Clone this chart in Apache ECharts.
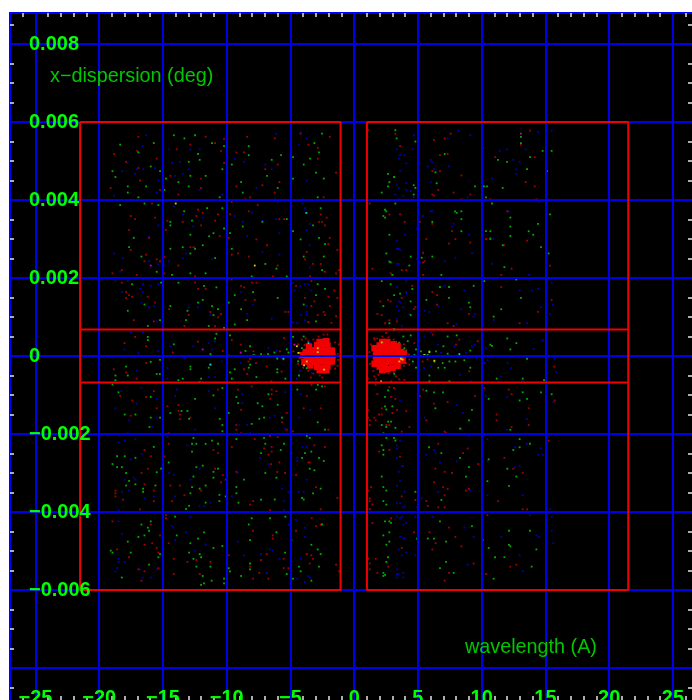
<!DOCTYPE html>
<html><head><meta charset="utf-8">
<style>html,body{margin:0;padding:0;background:#fff}#c{width:692px;height:700px}</style>
<script src="https://cdn.jsdelivr.net/npm/echarts@6/dist/echarts.min.js"></script>
</head><body><div id="c"></div>
<script>
// All points: [wavelength (A), x-dispersion (millidegrees)]
const xMajor=[-25,-20,-15,-10,-5,0,5,10,15,20,25];
const xMinor=[-26,-24,-23,-22,-21,-19,-18,-17,-16,-14,-13,-12,-11,-9,-8,-7,-6,-4,-3,-2,-1,1,2,3,4,6,7,8,9,11,12,13,14,16,17,18,19,21,22,23,24,26];
const yMajor=[8,6,4,2,0,-2,-4,-6,-8];
const yLabelled=[8,6,4,2,0,-2,-4,-6];
const yMinor=[8.5,7.5,7,6.5,5.5,5,4.5,3.5,3,2.5,1.5,1,.5,-.5,-1,-1.5,-2.5,-3,-3.5,-4.5,-5,-5.5,-6.5,-7,-7.5,-8.5];
const boxLines=[
 [[-21.5,6],[-1.07,6],[-1.07,-6],[-21.5,-6],[-21.5,6]],
 [[1,6],[21.5,6],[21.5,-6],[1,-6],[1,6]],
 [[-21.5,.68],[-1.07,.68]],[[-21.5,-.68],[-1.07,-.68]],
 [[1,.68],[21.5,.68]],[[1,-.68],[21.5,-.68]]];

const greenUL=[[-18.36,5.42],[-16.93,5.22],[-15.72,5.46],[-14.15,5.66],[-13.32,5.58],[-12.48,5.66],[-11.15,5.46],[-10.21,5.38],[-12.25,5.18],[-8.27,5.38],[-8.27,5.15],[-5.74,5.15],[-4.8,5.1],[-3.46,5.06],[-3.12,5.46],[-2.52,5.7],[-2.76,5.22],[-3.96,4.91],[-2.99,4.7],[-2.39,4.55],[-4.8,4.55],[-6.47,5.03],[-6.84,4.62],[-6,4.31],[-8.74,4.19],[-8.87,4.46],[-9.6,4.91],[-10.34,4.79],[-11.65,4.62],[-12.12,5.03],[-12.98,4.98],[-12.85,4.62],[-14.76,4.55],[-13.79,4.46],[-12.98,4.35],[-15.23,4.74],[-15.96,4.86],[-18.96,4.74],[-18.73,4.59],[-17.76,4.35],[-17.76,4.19],[-16.93,4.07],[-16.32,4.35],[-14.89,4.26],[-10.55,4.07],[-2.86,4.07],[-18.36,3.87],[-16.45,3.91],[-15.36,3.87],[-13.34,3.71],[-11.54,3.79],[-10.34,3.79],[-14.42,3.44],[-14.42,3.35],[-12.72,3.47],[-10.21,3.27],[-11.38,3.07],[-11.04,3.15],[-9.74,3.15],[-8.74,3.32],[-7.2,3.44],[-5.29,3.51],[-4.8,3.2],[-4.2,2.99],[-3.23,3.35],[-2.63,3.79],[-2.76,3.03],[-2.29,2.87],[-2.39,2.55],[-3.96,2.55],[-2.52,2.2],[-5.29,2.04],[-6.97,2.36],[-6.1,2.24],[-8.04,2.04],[-10.91,2.51],[-11.65,2.12],[-12.85,2.12],[-14.29,2.08],[-15.49,2.16],[-16.69,2.55],[-17.66,2.79],[-17.29,3.03],[-14.42,2.75],[-13.45,2.79],[-12.48,2.75],[-11.88,2.84],[-12.85,2.63],[-12.85,3.11],[-9.6,2.75],[-17.42,1.84],[-15.15,1.88],[-13.79,1.88],[-11.78,1.8],[-10.81,1.76],[-9.37,1.56],[-7.93,1.64],[-6,1.49],[-9.84,1.37],[-8.87,1.2],[-8.4,.92],[-9.37,.81],[-10.21,.72],[-10.68,1.2],[-11.15,1.28],[-11.04,1.05],[-11.41,.77],[-11.88,1.44],[-12.25,1.37],[-13.08,1.16],[-13.19,.92],[-14.42,1.28],[-16.45,1.32],[-17.76,1.16],[-15.23,.92],[-16.19,.77],[-2.99,1.56],[-2.86,1.84],[-2.29,1.72],[-3.96,1.32],[-2.99,.89]];
const redUL=[[-16.93,5.62],[-18.83,5.18],[-17.03,5.26],[-17.89,4.98],[-16.93,4.82],[-16.8,4.5],[-19.1,4.31],[-15.49,5.06],[-13.92,5.3],[-12.85,5.42],[-11.65,5.62],[-10.91,5.46],[-10.21,5.57],[-10.44,5.26],[-9.24,5.22],[-8.64,5.22],[-8.4,5.62],[-6.23,5.58],[-4.2,5.7],[-3.59,5.42],[-1.92,5.62],[-2.86,5.34],[-2.86,5.06],[-1.42,4.7],[-6,4.91],[-6.97,4.79],[-5.87,4.46],[-7.2,4.38],[-9.24,4.35],[-6.23,4.19],[-8.17,4.07],[-8.53,4.02],[-12.01,4.55],[-12.01,4.31],[-13.79,4.14],[-14.42,4.62],[-15.23,4.26],[-10.21,4.95],[-2.39,4.07],[-15.85,3.91],[-17.53,3.59],[-17.19,3.51],[-15.62,3.55],[-14.65,3.47],[-13.45,3.44],[-12.25,3.75],[-11.88,3.67],[-12.38,3.59],[-10.68,3.63],[-10.91,3.47],[-12.01,3.35],[-14.78,3.23],[-17.66,3.23],[-16.09,3.03],[-10.55,3.08],[-9.84,3.03],[-9.6,3.95],[-9.74,3.63],[-8.27,3.71],[-7.57,3.87],[-7.67,2.99],[-6.84,2.84],[-5.87,3.51],[-5.5,3.51],[-4.93,3.83],[-2.63,3.63],[-2.16,3.55],[-2.76,3.44],[-2.52,3.44],[-2.29,3.35],[-1.92,3.03],[-2.03,2.87],[-1.32,2.72],[-3.72,2.67],[-3.86,2.48],[-3.23,2.36],[-2.63,2.36],[-2.29,2.16],[-1.42,2.12],[-1.19,2.2],[-6,2.32],[-8.27,2.55],[-9.6,2.6],[-9.11,2.63],[-14.89,2.54],[-15.23,2.43],[-15.49,2.48],[-16.45,2.43],[-16.32,2.6],[-17.53,2.72],[-13.79,2.32],[-12.85,2.79],[-12.61,2.79],[-18.23,2.2],[-18.96,2.12],[-17.06,2.08],[-14.89,2.12],[-12.48,2.04],[-6.37,2.04],[-3.46,2.04],[-18.23,1.88],[-17.89,1.64],[-17.66,1.56],[-17.42,1.52],[-17.89,1.49],[-16.19,1.52],[-15.62,1.37],[-17.29,.92],[-15.72,.89],[-14.52,1.2],[-12.98,1.05],[-13.32,.77],[-12.48,1.88],[-12.25,1.72],[-11.65,1.72],[-11.28,1.13],[-10.91,.77],[-10.68,.99],[-10.44,1.08],[-9.6,1.96],[-8.87,1.8],[-8.64,1.76],[-8.01,1.88],[-7.67,1.88],[-8.53,1.44],[-7.8,1.44],[-5.4,1.13],[-5.16,1.13],[-4.93,1.64],[-4.56,1.8],[-3.36,1.92],[-3.86,1.49],[-3.12,1.4],[-3.36,1.28],[-2.03,1.52],[-1.56,1.68],[-1.32,1.49],[-1.92,1.28],[-2.39,1.13],[-2.86,1.05],[-2.29,1.05],[-1.42,1.02],[-1.79,.85],[-3.59,.87]];
const blueUL=[[-16.32,5.66],[-16.59,5.38],[-17.79,4.95],[-18.23,4.74],[-17.06,4.79],[-17.19,4.67],[-16.56,4.79],[-15.62,4.82],[-15.36,4.5],[-15.49,4.19],[-18.83,4.11],[-14.52,5.3],[-12.85,5.3],[-12.12,5.3],[-14.29,4.95],[-13.68,4.98],[-14.05,4.62],[-13.45,4.67],[-12.98,4.79],[-12.12,4.26],[-10.34,4.14],[-9.37,5.06],[-8.64,4.98],[-7.67,4.31],[-6.1,5.7],[-4.33,5.42],[-4.2,5.74],[-3.72,5.58],[-4.93,4.95],[-3.72,4.5],[-6.97,4.91],[-6.47,4.79],[-6.23,4.02],[-6,3.95],[-4.06,4.02],[-4.06,3.91],[-14.15,3.83],[-13.45,3.63],[-11.88,3.55],[-12.61,3.32],[-15.36,3.35],[-16.09,3.07],[-9.37,3.59],[-8.04,3.67],[-8.74,3.44],[-8.4,3.08],[-7.2,3.47],[-6.1,3.51],[-5.87,3.15],[-3.86,3.79],[-3.72,3.67],[-3.46,3.39],[-3.72,3.23],[-3.49,2.84],[-3.49,2.27],[-18.83,2.63],[-18.13,2.51],[-16.09,2.43],[-15.36,2.36],[-14.89,2.32],[-14.52,2.43],[-13.19,2.63],[-13.45,2.51],[-11.15,2.48],[-7.2,2.67],[-5.87,2.6],[-18.36,2.16],[-18.73,1.92],[-17.76,1.92],[-16.56,1.84],[-15.96,1.8],[-15.36,1.84],[-16.8,1.72],[-18.23,1.64],[-16.59,1.64],[-17.4,1.52],[-16.69,1.37],[-16.09,1.25],[-15.72,1.28],[-15.49,.89],[-12.98,1.25],[-12.25,1.25],[-11.28,1.05],[-9.97,1.13],[-8.87,1.64],[-7.93,1.32],[-8.4,1.08],[-6.47,.96],[-8.17,.69],[-4.8,1.88],[-4.2,1.8],[-4.69,1.68],[-3.86,1.84],[-3.59,1.84],[-3.36,1.68],[-3.72,1.28],[-3.72,1.13],[-4.2,1.05],[-3.72,1.05],[-4.8,.87],[-4.46,.85],[-3.59,.87],[-3.86,.92]];

const greenLL=[[-18.96,-.73],[-18.49,-.93],[-15.96,-1.05],[-12.48,-1.1],[-11.04,-1.01],[-10.34,-.82],[-9.24,-1.05],[-9.11,-1.21],[-7.57,-1.21],[-7.2,-1.29],[-6.73,-.98],[-6,-1.25],[-4.93,-.86],[-4.46,-.86],[-2.99,-.86],[-2.86,-.74],[-2.52,-.78],[-18,-1.5],[-17.16,-1.5],[-15.96,-1.58],[-15.23,-1.58],[-14.42,-1.46],[-13.55,-1.41],[-13.08,-1.41],[-12.95,-1.61],[-10.55,-1.61],[-9.84,-1.46],[-10.34,-1.77],[-10.34,-1.93],[-8.04,-1.74],[-7.44,-1.61],[-7.07,-1.58],[-5.66,-1.58],[-2.86,-1.7],[-2.29,-1.89],[-16.06,-1.82],[-12.61,-2.1],[-12.72,-2.25],[-12.38,-2.25],[-11.65,-2.25],[-11.15,-2.17],[-10.68,-2.25],[-12.72,-2.45],[-9.24,-2.13],[-7.07,-2.1],[-6.97,-2.25],[-7.31,-2.49],[-5.76,-2.41],[-5.5,-2.25],[-4.93,-2.49],[-3.72,-2.05],[-3.49,-2.1],[-3.86,-2.49],[-3.36,-2.45],[-2.76,-2.61],[-2.39,-2.69],[-4.09,-2.61],[-3.49,-2.89],[-3.12,-2.93],[-15.72,-2.33],[-18.6,-2.57],[-18,-2.57],[-17.16,-2.61],[-18.96,-2.77],[-18.6,-2.85],[-18.23,-2.85],[-17.89,-3],[-15.49,-2.98],[-15.15,-2.89],[-14.55,-2.73],[-11.88,-2.81],[-12.38,-2.85],[-11.04,-2.97],[-10.68,-2.89],[-11.04,-3.12],[-12.61,-3.09],[-8.64,-3.17],[-6.97,-3],[-6.1,-3.12],[-17.66,-3.2],[-17.89,-3.32],[-17.16,-3.29],[-16.56,-3.4],[-16.56,-3.48],[-15.59,-3.32],[-12.72,-3.36],[-11.65,-3.32],[-12.12,-3.4],[-12.85,-3.52],[-10.57,-3.56],[-10.08,-3.6],[-9.24,-3.36],[-9.24,-3.52],[-9.08,-3.76],[-10.57,-3.72],[-11.65,-3.76],[-6.23,-3.68],[-7.31,-3.68],[-4.09,-3.64],[-3.96,-3.68],[-3.23,-3.52],[-2.63,-3.4],[-12.95,-3.84],[-13.19,-3.92],[-15.96,-4.24],[-16.69,-4.32],[-16.19,-4.4],[-16.09,-4.48],[-16.45,-4.6],[-16.93,-4.64],[-17.76,-4.76],[-19.1,-4.99],[-18.96,-5.04],[-17.53,-5.04],[-15.23,-5.08],[-15.36,-5.16],[-16.09,-5.35],[-18.23,-5.68],[-14.05,-4.12],[-13.92,-4.6],[-12.25,-4.68],[-11.78,-4.52],[-12.85,-4.8],[-12.95,-5.04],[-12.12,-5.08],[-12.01,-5.16],[-12.61,-5.2],[-12.38,-5.4],[-11.28,-5.4],[-11.04,-4.92],[-10.34,-4.87],[-9.84,-5.44],[-9.74,-5.52],[-11.88,-5.64],[-11.18,-5.76],[-11.78,-5.83],[-12.01,-5.87],[-10.21,-5.71],[-10.21,-5.83],[-8.87,-5.64],[-8.27,-4.32],[-8.04,-4.16],[-8.17,-4.72],[-8.17,-5.32],[-8.17,-5.47],[-6.6,-4.16],[-5.4,-4.12],[-6.1,-4.52],[-4.93,-4.72],[-5.42,-5.04],[-4.33,-5.4],[-4.2,-5.52],[-5.29,-5.59],[-4.8,-5.71],[-3.36,-5.76],[-3.36,-4.84],[-2.86,-4.96],[-2.63,-5.08],[-2.76,-5.4],[-2.52,-4.32]];
const redLL=[[-18.36,-1.02],[-17.4,-1.14],[-16.32,-1.05],[-15.49,-1.34],[-17.53,-1.53],[-15.72,-.9],[-14.65,-1.29],[-13.79,-1.26],[-13.79,-1.41],[-13.68,-1.5],[-13.68,-1.62],[-12.85,-1.58],[-10.68,-.86],[-9.11,-.86],[-8.04,-.78],[-6.47,-.86],[-6.1,-.9],[-6.6,-1.1],[-6.47,-.98],[-8.87,-1.38],[-9.24,-1.77],[-9.24,-1.89],[-8.87,-1.98],[-5.66,-1.7],[-5.29,-1.46],[-5.29,-1.89],[-4.8,-1.93],[-3.96,-1.34],[-3.72,-1.02],[-2.63,-1.34],[-2.03,-1.89],[-3.36,-.74],[-2.29,-.78],[-14.55,-1.98],[-14.55,-2.25],[-14.89,-2.57],[-15.96,-2.57],[-16.45,-2.41],[-16.19,-2.89],[-16.69,-3],[-11.04,-2.41],[-10.68,-2.49],[-9.6,-2.33],[-10.91,-2.89],[-10.31,-3.05],[-10.08,-3.17],[-10.44,-3.24],[-9.24,-2.97],[-7.8,-2.13],[-6.6,-2.05],[-6,-2.08],[-6.47,-2.33],[-7.07,-2.37],[-6.73,-2.53],[-6.47,-2.45],[-6.52,-2.77],[-5.87,-2.73],[-6.03,-2.97],[-5.42,-3],[-4.56,-3.05],[-3.12,-2.29],[-2.29,-2.33],[-3.59,-2.73],[-3.49,-2.73],[-2.99,-3.36],[-2.63,-3.93],[-1.32,-3.64],[-18.73,-3.45],[-18.73,-3.52],[-18.73,-3.6],[-18.13,-3.68],[-16.45,-3.29],[-15.72,-3.45],[-15.72,-3.72],[-16.8,-3.93],[-14.42,-3.32],[-13.68,-3.32],[-14.29,-3.72],[-13.32,-3.57],[-12.01,-3.45],[-7.93,-3.72],[-8.17,-3.81],[-6.6,-3.96],[-18.96,-4.24],[-15.96,-4.32],[-15.23,-4.6],[-16.45,-4.84],[-15.85,-4.8],[-15.49,-4.92],[-15.36,-5.04],[-18.6,-4.96],[-17.66,-5.16],[-16.93,-5.47],[-16.45,-5.52],[-15.36,-5.44],[-16.69,-5.76],[-14.76,-4.08],[-14.76,-4.16],[-14.55,-4.8],[-14.15,-5.2],[-14.15,-5.59],[-13.08,-5.28],[-12.38,-5.23],[-11.28,-5.28],[-12.12,-5.59],[-9.84,-5.11],[-7.93,-4.48],[-8.17,-5.4],[-7.93,-5.71],[-7.44,-5.56],[-6.73,-5.71],[-7.31,-5.23],[-6.86,-5.08],[-6.39,-4.6],[-6.39,-4.68],[-5.53,-5.2],[-5.53,-5.44],[-5.16,-5.44],[-4.56,-4.48],[-3.33,-4.16],[-2.99,-4.36],[-2.63,-4.32],[-3.72,-5.08],[-3.36,-5.11],[-3.23,-5.2],[-3.49,-5.32],[-1.42,-5.35],[-1.19,-5.52]];
const blueLL=[[-18.26,-.9],[-16.69,-.81],[-14.05,-1.02],[-13.92,-.86],[-11.41,-.9],[-15.49,-1.1],[-17.06,-1.22],[-18.73,-1.34],[-17.66,-1.65],[-15.49,-1.58],[-15.85,-1.82],[-10.91,-1.34],[-8.77,-.98],[-8.77,-1.21],[-9.01,-1.77],[-8.4,-1.77],[-8.17,-1.98],[-6.6,-1.58],[-6.23,-1.53],[-5.4,-.93],[-4.2,-.98],[-3.46,-1.38],[-4.33,-1.58],[-5.42,-1.86],[-12.48,-1.89],[-17.76,-1.98],[-18.49,-2.22],[-18,-2.17],[-17.16,-2.13],[-14.65,-2.08],[-16.66,-2.52],[-17.53,-2.65],[-13.08,-2.29],[-12.12,-2.89],[-14.52,-3],[-14.15,-3.05],[-17.89,-3],[-18,-3.17],[-17.29,-3.12],[-17.16,-3.17],[-18.23,-3.48],[-17.66,-3.45],[-16.45,-3.64],[-15.72,-3.6],[-14.05,-3.6],[-12.85,-3.17],[-9.6,-3.6],[-11.28,-3.76],[-12.12,-3.84],[-11.78,-3.84],[-18.49,-3.96],[-9.13,-3],[-7.38,-2.61],[-6.73,-2.77],[-7.31,-3.69],[-5.53,-3.72],[-5.53,-3.96],[-4.93,-2.22],[-4.06,-2.33],[-3.72,-2.33],[-4.46,-2.61],[-4.46,-2.69],[-4.98,-3.12],[-3.72,-3.17],[-5.66,-3.4],[-5.16,-3.48],[-4.33,-3.48],[-3.96,-3.48],[-18.49,-4.24],[-18.23,-4.56],[-18.49,-5.2],[-18,-5.28],[-18.49,-5.28],[-18.6,-5.44],[-18.73,-5.52],[-16.8,-5.47],[-15.49,-5.47],[-16.59,-5.68],[-15.96,-5.68],[-14.31,-4.36],[-14.18,-4.4],[-13.19,-4.52],[-14.05,-4.72],[-11.65,-4.84],[-12.48,-4.99],[-12.85,-4.12],[-9.13,-4.76],[-8.64,-5.11],[-7.31,-5.08],[-6.6,-4.96],[-6.39,-4.99],[-5.87,-5.2],[-6.86,-5.56],[-4.56,-4.2],[-5.14,-4.32],[-3.86,-4.4],[-3.86,-4.64],[-3.72,-5.08],[-4.2,-5.2],[-3.59,-5.64],[-3.46,-5.68],[-4.46,-5.71],[-3.86,-5.8]];

const greenUR=[[3.23,5.79],[3.33,5.58],[4.8,5.5],[7.1,5.18],[2.66,4.67],[3.13,4.59],[6.37,4.71],[2.76,4.46],[2.66,4.35],[2.16,4.19],[4.67,4.38],[4.8,4.31],[4.67,4.14],[6.47,4.43],[9.48,4.35],[10.18,4.35],[10.42,4.35],[11.28,5.03],[11.99,4.98],[13.08,5.62],[13.08,5.46],[13.79,5.1],[14.78,5.26],[15.49,5.26],[13.56,4.79],[15.12,4.74],[11.65,4.31],[10.34,4.07],[10.81,3.91],[3.23,3.91],[2.42,3.75],[2.52,3.71],[2.29,3.59],[2.42,3.55],[7.91,3.71],[8.04,3.67],[8.41,3.71],[8.41,3.51],[6.13,3.44],[8.41,3.2],[10.34,3.2],[10.68,3.2],[12.25,3.55],[12.25,3.32],[12.25,3.08],[13.69,3.2],[14.05,3.11],[14.42,3.39],[15.36,3.63],[10.68,3],[14.65,2.79],[15.25,2.63],[11.65,2.84],[2.76,3.11],[2.52,2.63],[4.43,2.55],[2.76,2.42],[2.86,2.4],[5.3,2.52],[6.13,2.55],[4.33,2.32],[6.84,2.08],[2.99,2.08],[11.78,2.28],[12.72,1.96],[10.21,1.92],[2.16,1.92],[2.86,1.84],[4.56,1.72],[3.6,1.6],[3.13,1.56],[4.43,1.4],[2.29,1.28],[4.43,1.05],[2.76,.84],[3.13,.68],[5.66,1.44],[6.73,1.77],[7.44,1.77],[7.44,1.49],[9.37,1.8],[9,1.37],[9.11,1.25],[11.54,1.2],[13.08,1.49],[10.94,1.01]];
const redUR=[[1.09,5.79],[3.23,5.7],[3.6,5.38],[6.26,5.54],[7.1,5.58],[7.57,5.7],[7.33,5.18],[6.73,5.15],[6.73,4.74],[6.13,4.74],[8.41,4.63],[6.6,4.26],[6.13,4.14],[6.26,4.11],[7.8,4.19],[9.11,4.14],[8.41,4.02],[10.68,4.02],[10.08,5.34],[11.07,5.1],[13.08,5.42],[13.79,5.78],[14.16,5.1],[13.45,4.46],[14.16,4.35],[14.29,4.02],[1.22,3.91],[2.76,3.63],[3.6,3.63],[3.96,3.44],[5.16,3.44],[6.13,3.39],[7.67,3.2],[5.66,3],[7.94,3],[7.44,2.88],[9.11,2.91],[10.34,3],[10.68,3.03],[12.01,3.71],[13.56,2.96],[11.75,2.84],[5.4,2.64],[5.4,2.4],[5.53,2.43],[3.73,2.2],[4.09,2.2],[1.43,2.24],[2.86,2.12],[5.4,2.08],[12.35,2.24],[15.36,2.32],[11.54,2.08],[4.56,1.8],[3.73,1.49],[2.05,1.4],[2.66,1.44],[2.86,1.4],[4.8,1.25],[4.69,1.2],[1.82,1.08],[2.16,1.05],[2.76,.92],[2.42,.84],[3.36,.89],[6.13,1.64],[6.5,1.56],[6.5,1.32],[9,1.08],[7.33,.84],[7.8,.77],[11.54,1.77],[15.49,1.44],[14.42,1.13],[12.98,.84]];
const blueUR=[[4.69,5.66],[4.56,5.3],[3.36,5.3],[3.6,5.15],[3.96,5.15],[3.49,5.06],[4.09,4.94],[3.6,4.74],[3.36,4.38],[4.09,4.43],[3.49,4.31],[4.09,4.26],[4.43,4.23],[3.23,4.14],[3.86,4.11],[3.49,4.02],[4.67,4.07],[6,5.03],[6.13,4.98],[5.77,4.86],[6.26,4.79],[7.44,4.86],[6,4.46],[7.33,5.58],[8.17,5.78],[9.11,5.66],[10.81,4.55],[8.9,4.07],[11.41,5.26],[12.01,5.3],[12.48,5.03],[12.98,4.98],[12.72,4.79],[12.72,4.67],[13.45,5.3],[14.42,5.74],[15.49,5.78],[14.52,3.95],[5.4,3.59],[6,3.71],[6.13,3.71],[4.93,3.27],[7.8,3.39],[7.67,3.32],[3.96,3.11],[3.36,2.96],[3.36,2.75],[3.49,2.75],[3.6,2.72],[5.4,2.67],[4.93,2.48],[5.16,2.4],[3.36,2.36],[3.49,2.36],[7.1,2.43],[7.94,2.52],[9.24,2.64],[9,3.11],[10.81,2.36],[10.92,3],[12.12,3.71],[13.69,2.08],[4.09,1.92],[3.36,1.77],[4.09,1.64],[4.09,1.6],[3.49,1.4],[3.6,1.37],[3.36,1.28],[3.86,1.25],[3.49,1.16],[4.33,1.08],[3.36,.96],[3.73,.77],[7.1,1.8],[8.64,1.68],[6.6,1.28],[5.53,1.16],[5.9,1.13],[5.11,1.05],[8.41,1.2],[9.48,1.08],[9.37,1.01],[8.04,.81],[10.08,1.84],[12.98,1.68],[13.92,1.68],[14.42,1.72],[15.49,1.88],[15.59,1.32],[14.65,1.25],[15.36,1.08],[13.56,.84],[10.94,.92]];

const greenLR=[[2.66,-.88],[2.42,-1.05],[2.42,-1.29],[2.99,-1.29],[2.52,-1.37],[2.16,-1.77],[2.66,-1.68],[2.89,-1.68],[2.52,-1.82],[3.23,-1.84],[2.29,-1.98],[5.66,-.89],[6.26,-.93],[6.97,-.93],[6.37,-1.34],[9.24,-1.38],[9,-1.65],[8.3,-1.86],[10.55,-1.1],[13.22,-.93],[12.98,-1.14],[13.56,-1.1],[14.65,-.93],[15.49,-.98],[12.25,-1.89],[2.52,-2.1],[3.13,-2.1],[3.23,-2.17],[2.16,-2.29],[2.29,-2.41],[2.29,-2.53],[5.87,-2.34],[6.84,-2.49],[8.3,-2.61],[9,-2.85],[10.55,-2.65],[8.77,-3.09],[12.98,-2.13],[12.98,-2.34],[13.79,-2.25],[12.48,-2.41],[12.01,-2.89],[12.72,-3.09],[10.45,-3.21],[12.14,-3.33],[2.16,-3.09],[2.29,-3.36],[2.52,-3.45],[4.8,-3.48],[2.29,-3.72],[2.52,-3.81],[6.84,-3.69],[5.66,-4],[2.42,-4.24],[2.76,-4.24],[2.89,-4.28],[2.76,-4.52],[2.29,-4.6],[2.76,-4.76],[2.52,-4.84],[4.93,-4.68],[5.77,-4.68],[6.26,-4.68],[7.2,-4.76],[6.73,-4.24],[9.24,-4.36],[10.08,-4.72],[10.55,-4.92],[12.14,-4.48],[13.79,-4.48],[12.25,-4.88],[12.14,-4.84],[14.29,-4.96],[11.05,-5.16],[11.78,-5.16],[2.66,-5.16],[2.52,-5.28],[2.29,-5.56],[2.29,-5.64],[2.42,-5.61],[7.2,-5.28],[6.73,-5.44],[7.8,-5.56],[13.92,-5.4],[10.94,-5.71]];
const redLR=[[2.76,-.8],[3.13,-.82],[1.69,-.74],[1.82,-.98],[2.89,-1.05],[3.23,-1.1],[2.16,-1.34],[3.36,-1.38],[4.09,-1.41],[1.95,-1.5],[2.16,-1.5],[2.99,-1.46],[1.09,-1.38],[1.09,-1.58],[1.58,-1.58],[1.22,-1.65],[1.69,-1.65],[1.22,-1.77],[2.52,-1.77],[2.76,-1.77],[4.33,-1.82],[3.73,-1.94],[5.4,-.86],[5.16,-1.02],[7.33,-1.18],[6.26,-1.22],[5.66,-1.65],[9.48,-1.02],[10.21,-.82],[12.35,-.98],[12.12,-.86],[13.69,-1.34],[11.17,-1.5],[11.17,-1.65],[12.35,-1.82],[13.69,-1.77],[15.73,-1.14],[7.1,-1.94],[7.2,-1.98],[8.38,-1.86],[15.25,-2.17],[6.6,-2.25],[8.54,-2.49],[8.9,-2.37],[1.95,-2.45],[2.76,-2.41],[3.6,-2.58],[9.74,-2.77],[10.08,-2.7],[11.78,-2.61],[6.37,-2.89],[7.1,-2.97],[7.67,-3],[12.48,-2.89],[13.22,-3],[6.26,-3.24],[6.97,-3.36],[7.33,-3.41],[8.77,-3.45],[9,-3.41],[7.1,-3.57],[1.32,-3.36],[1.09,-3.45],[1.22,-3.65],[1.22,-3.72],[1.43,-3.81],[1.22,-3.93],[3.73,-3.6],[4.8,-3.69],[5.66,-3.72],[5.77,-3.84],[6.6,-3.88],[7.1,-3.88],[11.28,-3.72],[13.22,-3.93],[13.56,-3.93],[10.45,-4.08],[2.89,-4.16],[1.43,-4.28],[4.69,-4.52],[5.9,-4.52],[7.44,-4.4],[7.94,-4.64],[6.39,-4.8],[6.13,-4.96],[8.41,-4.88],[3.73,-4.92],[1.69,-5.2],[1.09,-5.2],[1.22,-5.32],[2.66,-5.4],[1.22,-5.47],[1.82,-5.56],[9.37,-5.32],[7.44,-5.56],[7.1,-5.76],[10.34,-5.59],[12.25,-5.4],[12.72,-5.35]];
const blueLR=[[3.6,-1.14],[5.53,-1.58],[8.54,-1.46],[8.04,-1.26],[10.34,-1.02],[12.01,-1.05],[13.56,-1.62],[12.01,-1.89],[15.62,-1.18],[9,-2.05],[10.45,-2.13],[3.6,-2.17],[3.36,-2.29],[3.36,-2.37],[3.36,-2.61],[3.73,-2.82],[3.83,-2.82],[3.49,-2.97],[3.6,-3.21],[3.36,-3.33],[3.96,-3.48],[6.26,-2.41],[5.66,-2.53],[6.39,-2.49],[6.73,-2.73],[8.04,-2.7],[10.45,-2.7],[13.56,-2.25],[12.61,-2.34],[14.65,-2.37],[15.12,-2.37],[14.42,-2.53],[14.78,-2.53],[12.98,-2.82],[12.61,-2.85],[5.3,-3.65],[6.6,-3.48],[9.11,-3.45],[10.45,-3.57],[13.22,-3.57],[3.36,-3.77],[3.6,-3.77],[3.96,-3.84],[3.83,-3.88],[4.93,-3.88],[15.39,-3.93],[13.56,-4],[3.36,-4.12],[3.73,-4.12],[3.6,-4.16],[4.8,-4.12],[6.13,-4.12],[4.09,-4.28],[3.86,-4.32],[13.79,-4.08],[15.49,-4.12],[8.64,-4.4],[9.37,-4.64],[3.6,-4.64],[3.86,-4.68],[3.96,-4.68],[3.49,-4.96],[4.09,-5.04],[3.73,-5.11],[4.8,-5.11],[11.54,-4.64],[14.29,-4.6],[14.52,-4.64],[15.49,-4.48],[15.62,-4.8],[12.98,-5.11],[8.9,-5.35],[13.22,-5.52],[3.36,-5.47],[3.86,-5.56],[3.36,-5.59],[3.49,-5.59],[3.36,-5.68],[3.86,-5.68],[10.45,-5.59]];

const greenBandL=[[-16.19,.49],[-16.19,.41],[-14.15,.3],[-15.23,-.1],[-15.96,-.15],[-17.89,-.27],[-17.76,-.5],[-18.73,-.5],[-18.73,-.62],[-15.49,-.46],[-15.25,-.46],[-13.79,-.62],[-13.45,-.58],[-12.85,-.27],[-12.85,-.34],[-11.41,-.3],[-12.01,-.58],[-12.12,-.67],[-11.28,-.22],[-11.28,.05],[-10.91,.45],[-10.81,.57],[-9.74,.53],[-9.74,-.42],[-9.37,-.34],[-9.6,-.58],[-8.53,.13],[-8.17,.25],[-7.8,.01],[-7.3,.05],[-7.07,.01],[-6.76,.05],[-6.26,.09],[-6.03,-.07],[-5.16,.09],[-5.29,.17],[-4.8,.49],[-4.1,.2],[-7.67,-.54],[-8.27,-.3],[-8.17,-.22],[-6.03,-.34],[-6.03,-.42],[-5.4,-.58],[-4.33,-.5],[-3.96,.5],[-2.76,-.38],[-2.26,-.42],[-3.72,-.31],[-4.4,-.14],[-4.25,.08],[-9.84,.01]];
const redBandL=[[-18.02,.33],[-16.32,.25],[-16.32,-.18],[-17.19,.49],[-17.06,-.58],[-18.86,-.34],[-17.89,-.42],[-14.23,.09],[-12.25,.37],[-10.31,.13],[-9.6,.41],[-8.9,.29],[-7.91,.12],[-8.3,-.14],[-7.7,-.18],[-8.64,-.34],[-8.4,-.46],[-8.17,-.07],[-6.86,-.27],[-5.82,.12],[-5.55,-.09],[-5.5,.46],[-5.69,-.4],[-4.77,.12],[-6.5,-.65],[-4.4,.3],[-4.1,.42],[-3.9,.28],[-3.8,.45],[-3.6,.38],[-3.2,.42],[-2.8,.5],[-2.4,.55],[-2,.42],[-1.5,.35],[-1.2,.3],[-1.3,-.25],[-1.5,-.32],[-2,-.4],[-2.4,-.42],[-2.7,-.5],[-3.2,-.45],[-3.6,-.38],[-4,-.3],[-4.4,-.2],[-3.6,.18],[-3.7,-.12],[-4,.1],[-4.3,-.05],[-1.3,.05],[-1.25,-.1],[-2.9,.4],[-2.5,-.55],[-2.1,.55],[-3.4,-.55]];
const blueBandL=[[-17.53,.61],[-16.59,.61],[-18.02,.17],[-16.93,.09],[-15.36,.13],[-14.42,.25],[-12.61,.25],[-11.41,.33],[-10.91,.37],[-11.15,.17],[-13.32,-.06],[-14.65,-.31],[-17.06,-.38],[-14.65,-.58],[-11.41,-.54],[-10.91,-.54],[-10.08,-.58],[-8.9,-.18],[-10.39,-.14],[-6.73,.21],[-6.08,.14],[-5.69,-.05],[-4.9,-.14],[-4.69,.29],[-4.25,-.39],[-4.5,-.58],[-3.33,-.44],[-3.46,.33]];
const greenBandR=[[3.13,.69],[3.86,.5],[4.43,.53],[4.2,.38],[7.33,.5],[8.04,.53],[10.68,.29],[10.81,.26],[12.01,.45],[12.72,.33],[12.25,.17],[13.56,-.07],[11.18,-.58],[13.22,-.58],[14.89,-.62],[5.9,-.5],[5.9,-.65],[7.47,-.65],[9.11,-.3],[9.11,.14],[7,.25],[7.33,.06],[8.64,-.11],[7.94,-.14],[7.47,-.14],[6.6,-.3],[7.1,-.3],[6.94,-.18],[5.9,.12],[5.24,.12],[4.85,.17],[4.72,-.01],[4.85,-.3],[5.5,.02],[5.77,.03],[4.07,.12],[3.94,.2],[3.54,.33],[3.54,-.31],[3.15,-.46],[6.42,.12],[6.29,-.14],[3.94,-.07],[4.6,-.14]];
const redBandR=[[1.58,.46],[2.5,.59],[1.98,.33],[4.33,-.09],[4.72,.33],[5.37,-.14],[5.77,-.09],[4.33,-.22],[4.07,-.18],[1.58,-.52],[3.54,-.6],[3.94,-.61],[2.89,-.65],[2.11,-.65],[1.06,-.57],[2.5,-.4],[3.15,-.31],[3.28,-.52],[2.37,-.24],[7.99,.29],[8.25,.42],[8.12,-.01],[7.78,-.01],[9.69,.38],[15.7,-.27],[6.16,.55],[9.03,-.39],[1.3,.3],[1.2,.1],[1.25,-.2],[1.5,-.38],[1.8,.45],[2.2,.5],[2.7,.48],[3.1,.42],[3.5,.35],[3.9,.3],[4.1,.15],[3.9,-.25],[3.5,-.3],[3.1,-.42],[2.7,-.45],[2.3,-.42],[1.9,-.48],[1.6,.42],[3.6,.15],[4.3,.05],[2.6,.38],[2.5,-.35],[1.7,-.6]];
const blueBandR=[[6.03,.61],[5.5,.5],[5.11,.38],[6.55,.29],[5.5,-.31],[5.11,-.35],[6.03,-.27],[7.86,.25],[9.43,.29],[9.24,.25],[10.34,.2],[8.77,.08],[8.9,-.05],[9.56,-.05],[10.21,-.18],[10.47,-.11],[11.26,-.01],[12.38,-.03],[12.04,-.18],[12.3,-.31],[11.52,-.52],[13.22,-.65],[14.08,.18],[14.78,.41],[15.7,-.07],[15.86,-.41],[8.3,-.48],[9.16,-.65],[6.81,.08],[6.16,-.01]];
const yellowDots=[[-2.86,.2],[-2.86,.1],[-3.72,-.14],[-3.93,-.24],[-4.38,.08],[-2.37,-.35],[-4.5,.25],[3.8,-.09],[3.67,-.07],[3.54,-.14],[2.16,.35],[2.11,-.65],[6.29,-.12],[5.9,.1],[5.5,.03],[-14.0,3.91],[-7.8,2.32]];
const cyanDots=[[-11.28,-.22],[-7.9,.02],[-6.08,-.01],[-5.55,-.07],[-3.59,.33],[4.72,.02],[5.58,.02],[8.25,.05],[-3.76,3.67]];
const magentaDots=[[-11.88,.17],[-8.9,.09],[-4.97,-.15],[-4.69,.29],[13.08,5.7],[-15.96,2.32]];
const redCoreL=[[-2.9,.28],[-2.5,.3],[-2.1,.27],[-3.3,.15],[-2.9,.14],[-2.5,.14],[-2.1,.14],[-1.75,.14],[-3.5,0],[-3.1,0],[-2.7,0],[-2.3,0],[-1.9,0],[-1.7,0],[-3.3,-.14],[-2.9,-.14],[-2.5,-.14],[-2.1,-.14],[-1.75,-.14],[-2.9,-.28],[-2.5,-.3],[-2.1,-.27],[-3.8,.1],[-3.7,-.06],[-3.55,.24],[-3.45,-.24],[-2.7,.36],[-2.2,.38],[-2.7,-.36],[-2.2,-.36],[-3.9,-.15],[-4,.02]];
const redCoreR=[[2,.27],[2.4,.28],[2.8,.26],[1.75,.14],[2.1,.14],[2.5,.14],[2.9,.14],[3.3,.13],[1.7,0],[2,0],[2.4,0],[2.8,0],[3.2,0],[3.6,0],[1.75,-.14],[2.1,-.14],[2.5,-.14],[2.9,-.14],[3.3,-.13],[2,-.27],[2.4,-.26],[3.7,.1],[1.6,.2],[1.6,-.2],[3.4,.25],[3.1,.3],[3.4,-.25],[3,-.3],[3.9,.05],[3.8,-.12],[2.2,.36],[2.6,.36],[2.2,-.36],[2.6,-.34]];
const xTitle='wavelength (A)';
const yTitle='x\u2212dispersion (deg)';

const BLUE='#0000e6',RED='#f00000',LABEL='#00ff00',TITLE='#00c800',TICK='#e8e8e8';
const FONT='"Liberation Sans",Arial,sans-serif';
const xMin=-27,xMax=26.5,yMin=-8.82,yMax=8.795;
const xFmt=v=>v<0?'\u2212'+(-v):String(v);
const yFmt=v=>v===0?'0':(v<0?'\u2212':'')+(Math.abs(v)/1000).toFixed(3);
const lbl={color:LABEL,fontFamily:FONT,fontWeight:'bold',fontSize:20};
const off={show:false};
const noLine={show:false,onZero:false};
const tickLine={color:TICK,width:1.5};
const xAxes=[
 {type:'value',position:'bottom',min:xMin,max:xMax,z:7,axisLine:noLine,splitLine:off,
  axisTick:{show:true,inside:true,length:4,lineStyle:tickLine,customValues:xMinor},
  axisLabel:{...lbl,show:true,margin:-12,verticalAlign:'top',customValues:xMajor,formatter:xFmt,hideOverlap:false}},
 {type:'value',position:'top',min:xMin,max:xMax,z:7,
  axisLine:{show:true,onZero:false,lineStyle:{color:'#0000ff',width:2}},splitLine:off,axisLabel:off,
  axisTick:{show:true,inside:true,length:4,lineStyle:tickLine,customValues:xMinor}},
 {type:'value',position:'bottom',min:xMin,max:xMax,z:5,axisLine:noLine,axisLabel:off,
  axisTick:{show:false,customValues:xMajor},
  splitLine:{show:true,lineStyle:{color:BLUE,width:2}}}
];
const yAxes=[
 {type:'value',position:'left',min:yMin,max:yMax,z:7,
  axisLine:{show:true,onZero:false,lineStyle:{color:'#0000ff',width:2}},splitLine:off,
  axisTick:{show:true,inside:true,length:4,lineStyle:tickLine,customValues:yMinor},
  axisLabel:{...lbl,show:true,inside:true,margin:19,customValues:yLabelled,formatter:yFmt,hideOverlap:false,padding:[7,0,0,0]}},
 {type:'value',position:'right',min:yMin,max:yMax,z:7,axisLine:noLine,splitLine:off,axisLabel:off,
  axisTick:{show:true,inside:true,length:4,lineStyle:tickLine,customValues:yMinor}},
 {type:'value',position:'left',min:yMin,max:yMax,z:5,axisLine:noLine,axisLabel:off,
  axisTick:{show:false,customValues:yMajor},
  splitLine:{show:true,lineStyle:{color:BLUE,width:2}}}
];
const dots=(name,color,data,size)=>({name,type:'scatter',data,symbol:'rect',symbolSize:size,z:2,
  itemStyle:{color,opacity:1},silent:true,animation:false,large:false});
const series=[
 dots('blue','#0000b4',[...blueUL,...blueLL,...blueUR,...blueLR,...blueBandL,...blueBandR],1.8),
 dots('red','#a80000',[...redUL,...redLL,...redUR,...redLR,...redBandL,...redBandR],1.8),
 dots('green','#00b000',[...greenUL,...greenLL,...greenUR,...greenLR,...greenBandL,...greenBandR],1.8),
 dots('core','#f00000',[...redCoreL,...redCoreR],6.5),
 dots('yellow','#d8d000',yellowDots,1.8),
 dots('cyan','#00c8c8',cyanDots,1.8),
 dots('magenta','#c000c0',magentaDots,1.8),
 ...boxLines.map((d,i)=>({name:'box'+i,type:'line',data:d,symbol:'none',z:6,silent:true,animation:false,
   lineStyle:{color:RED,width:2}}))
];
const chart=echarts.init(document.getElementById('c'),null,{renderer:'canvas'});
chart.setOption({
 animation:false,backgroundColor:'#ffffff',
 grid:{left:10,top:13,right:0,bottom:0,containLabel:false,outerBoundsMode:'none',show:true,backgroundColor:'#000000',borderWidth:0},
 xAxis:xAxes,yAxis:yAxes,series,
 graphic:[
  {type:'text',left:50,top:67,z:10,style:{text:yTitle,fill:TITLE,font:'19.8px '+FONT}},
  {type:'text',left:465,top:638,z:10,style:{text:xTitle,fill:TITLE,font:'19.8px '+FONT}}
 ]
});
</script></body></html>
